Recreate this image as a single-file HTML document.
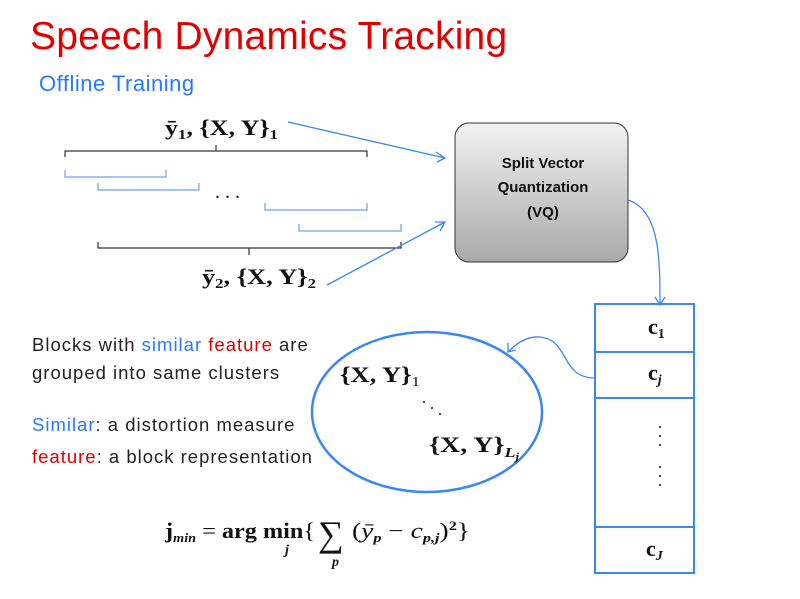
<!DOCTYPE html>
<html><head><meta charset="utf-8"><style>
body{margin:0;background:#fff;width:800px;height:599px;overflow:hidden;position:relative;font-family:"Liberation Sans",sans-serif}
.t{position:absolute;white-space:nowrap}
</style></head><body>
<div class="t" style="left:30px;top:15px;font-size:39px;color:#e00000;letter-spacing:0.2px">Speech Dynamics Tracking</div>
<div class="t" style="left:39px;top:71px;font-size:22px;color:#2a78ff;letter-spacing:0.5px">Offline Training</div>
<div class="t" style="left:32px;top:331px;font-size:18.5px;color:#222;line-height:28px;letter-spacing:1px">Blocks with <span style="color:#2a78ff">similar</span> <span style="color:#e00000">feature</span> are<br>grouped into same clusters</div>
<div class="t" style="left:32px;top:409px;font-size:18.5px;color:#222;line-height:32px;letter-spacing:1px"><span style="color:#2a78ff">Similar</span>: a distortion measure<br><span style="color:#e00000">feature</span>: a block representation</div>
<svg width="800" height="599" style="position:absolute;left:0;top:0">
<defs><linearGradient id="g" x1="0" y1="0" x2="0" y2="1"><stop offset="0" stop-color="#f2f2f2"/><stop offset="1" stop-color="#a9a9a9"/></linearGradient></defs>
<rect x="455" y="123" width="173" height="139" rx="14" fill="url(#g)" stroke="#333" stroke-width="1"/>
<g font-family="Liberation Sans,sans-serif" font-weight="bold" font-size="15" text-anchor="middle" fill="#111">
<text x="543" y="168">Split Vector</text><text x="543" y="192">Quantization</text><text x="543" y="217">(VQ)</text></g>
<g fill="none" stroke="#333" stroke-width="1.2">
<path d="M65 157V151H367V157M216 151V145"/>
<path d="M98 242V248H401V242M249 248V255"/></g>
<g fill="none" stroke="#6fa2f5" stroke-width="1.2">
<path d="M65 170V177H166V170"/><path d="M98 183V190H199V183"/>
<path d="M265 203V210H367V203"/><path d="M299 224V231H401V224"/></g>
<g fill="none" stroke="#3a86f5" stroke-width="1.3">
<path d="M288 122L445 158M436 152L445 158L437 162"/>
<path d="M327 285L445 222M435 222L445 222L440 231"/>
<path d="M628 200C660 210 660 260 660 305M655 297L660 305L665 297"/>
<path d="M595 378C560 378 570 340 540 337C525 336 515 345 508 352M508 343L508 352L516 350"/></g>
<ellipse cx="427" cy="412" rx="115" ry="80" fill="none" stroke="#3a86f5" stroke-width="2.5"/>
<g fill="none" stroke="#3a86f5" stroke-width="2">
<rect x="595" y="304" width="99" height="269"/>
<path d="M595 352H694M595 398H694M595 527H694"/></g>
<g font-family="Liberation Serif,serif" font-size="22" font-weight="bold" fill="#111">
<text x="165" y="135" textLength="113" lengthAdjust="spacingAndGlyphs">ȳ<tspan font-size="14" dy="4">1</tspan><tspan dy="-4">, {X, Y}</tspan><tspan font-size="14" dy="4">1</tspan></text>
<text x="202" y="284" textLength="114" lengthAdjust="spacingAndGlyphs">ȳ<tspan font-size="14" dy="4">2</tspan><tspan dy="-4">, {X, Y}</tspan><tspan font-size="14" dy="4">2</tspan></text>
<text x="340" y="382" textLength="80" lengthAdjust="spacingAndGlyphs">{X, Y}<tspan font-size="14" font-weight="normal" dy="4">1</tspan></text>
<text x="429" y="452" textLength="90" lengthAdjust="spacingAndGlyphs">{X, Y}<tspan font-size="14" font-style="italic" dy="5">L</tspan><tspan font-size="10" font-style="italic" dy="3">j</tspan></text>
<text x="648" y="334">c<tspan font-size="14" dy="4">1</tspan></text>
<text x="648" y="380">c<tspan font-size="14" font-style="italic" dy="4">j</tspan></text>
<text x="646" y="556">c<tspan font-size="14" font-style="italic" dy="4">J</tspan></text>
<text x="215" y="198" font-weight="normal" font-size="20">. . .</text>
<text x="165" y="538" textLength="150" lengthAdjust="spacingAndGlyphs">j<tspan font-size="13" font-style="italic" dy="4">min</tspan><tspan dy="-4" font-weight="normal"> = </tspan>arg min<tspan font-weight="normal">{</tspan></text>
<text x="318" y="546" font-size="36" font-weight="normal">∑</text>
<text x="352" y="538" textLength="118" lengthAdjust="spacingAndGlyphs"><tspan font-weight="normal">(</tspan><tspan font-weight="normal" font-style="italic">ȳ</tspan><tspan font-size="13" font-style="italic" dy="4">p</tspan><tspan dy="-4" font-weight="normal"> − </tspan><tspan font-style="italic" font-weight="normal">c</tspan><tspan font-size="13" font-style="italic" dy="4">p,j</tspan><tspan dy="-4" font-weight="normal">)</tspan><tspan font-size="13" dy="-8">2</tspan><tspan dy="8" font-weight="normal">}</tspan></text>
<text x="285" y="554" font-size="14" font-style="italic">j</text>
<text x="332" y="566" font-size="14" font-style="italic">p</text>
</g>
<g fill="#111"><circle cx="424" cy="402" r="1"/><circle cx="432" cy="408" r="1"/><circle cx="440" cy="414" r="1"/>
<circle cx="660" cy="427" r="1"/><circle cx="660" cy="436" r="1"/><circle cx="660" cy="445" r="1"/>
<circle cx="660" cy="467" r="1"/><circle cx="660" cy="476" r="1"/><circle cx="660" cy="485" r="1"/></g>
</svg>
</body></html>
